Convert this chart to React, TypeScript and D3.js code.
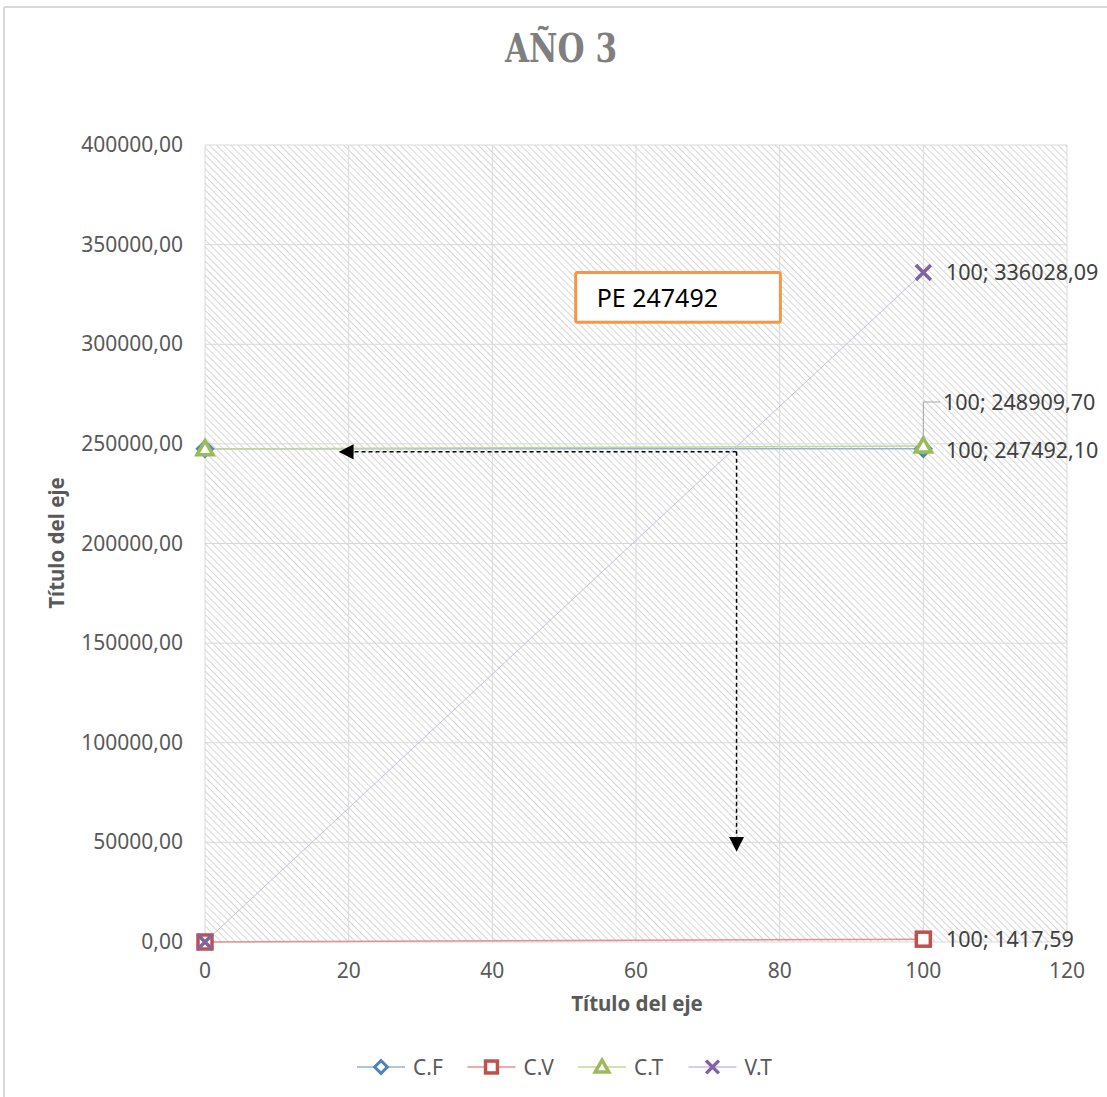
import React from "react";
import * as d3 from "d3";

const seriesNames = ["C.F", "C.V", "C.T", "V.T"];
const seriesColors = ["#4f81bd", "#c0504d", "#9bbb59", "#8064a2"];
const lineColors = ["#95b3d7", "#e6908e", "#c3d69b", "#c9c0e0"];
const xValues = [0, 100];
const cfValues = [247492.1, 247492.1];
const cvValues = [0, 1417.59];
const ctValues = [247492.1, 248909.7];
const vtValues = [0, 336028.09];
const xTicks = [0, 20, 40, 60, 80, 100, 120];
const yTicks = [0, 50000, 100000, 150000, 200000, 250000, 300000, 350000, 400000];
const peX = 74;
const peY = 247492;
const arrowLeftX = 18.8;
const arrowDownY = 46000;
const peBox = { x0: 51.6, x1: 80.1, y0: 336000, y1: 311000, text: "PE 247492" };

const W = 1107, H = 1097;
const fmt = (v: number) => v.toFixed(2).replace(".", ",");

export default function App() {
  const x = d3.scaleLinear().domain([0, 120]).range([205, 1067]);
  const y = d3.scaleLinear().domain([0, 400000]).range([942, 145]);
  const all = [cfValues, cvValues, ctValues, vtValues];
  const line = d3.line<[number, number]>().x(d => x(d[0])).y(d => y(d[1]));
  const font = "'Noto Sans', 'Open Sans', sans-serif";

  const marker = (k: number, cx: number, cy: number, key: string, s = 1) => {
    const c = seriesColors[k];
    if (k === 0) {
      const r = 7.5 * s;
      return <path key={key} d={`M${cx},${cy - r}L${cx + r},${cy}L${cx},${cy + r}L${cx - r},${cy}Z`} fill="#fff" stroke={c} strokeWidth={3} />;
    }
    if (k === 1) {
      const r = 7 * s;
      return <rect key={key} x={cx - r} y={cy - r} width={2 * r} height={2 * r} fill="#fff" stroke={c} strokeWidth={3.5} />;
    }
    if (k === 2) {
      const r = 8 * s;
      return <path key={key} d={`M${cx},${cy - r}L${cx + r},${cy + r * 0.75}L${cx - r},${cy + r * 0.75}Z`} fill="#fff" stroke={c} strokeWidth={3.5} />;
    }
    const r = 7.5 * s;
    return <path key={key} d={`M${cx - r},${cy - r}L${cx + r},${cy + r}M${cx + r},${cy - r}L${cx - r},${cy + r}`} stroke={c} strokeWidth={3.5} />;
  };

  return (
    <svg width={W} height={H} style={{ position: "absolute", left: 0, top: 0, background: "#fff" }}>
      <defs>
        <pattern id="hatch" patternUnits="userSpaceOnUse" width="5" height="5" patternTransform="rotate(-45)">
          <line x1="0" y1="0" x2="0" y2="5" stroke="#d3d3d3" strokeWidth="1.8" />
        </pattern>
        <marker id="ah2" viewBox="0 0 10 10" refX="9" refY="5" markerWidth="15" markerHeight="15" markerUnits="userSpaceOnUse" orient="auto-start-reverse">
          <path d="M0,0L10,5L0,10Z" fill="#000" />
        </marker>
      </defs>
      <rect x={0} y={0} width={W} height={H} fill="#fff" />
      <line x1={4} y1={7} x2={4} y2={H} stroke="#d9d9d9" strokeWidth={2} />
      <line x1={4} y1={7} x2={W} y2={7} stroke="#d9d9d9" strokeWidth={2} />

      <g transform="translate(561,62) scale(0.84,1.05)">
        <text x={0} y={0} textAnchor="middle" fontFamily="'DejaVu Serif', serif" fontWeight="bold" fontSize={37} fill="#7f7f7f">AÑO 3</text>
      </g>

      <rect x={x(0)} y={y(400000)} width={x(120) - x(0)} height={y(0) - y(400000)} fill="url(#hatch)" />
      {xTicks.map(t => (
        <line key={"gx" + t} x1={x(t)} x2={x(t)} y1={y(0)} y2={y(400000)} stroke="#d9d9d9" strokeWidth={1} />
      ))}
      {yTicks.map(t => (
        <line key={"gy" + t} x1={x(0)} x2={x(120)} y1={y(t)} y2={y(t)} stroke="#d9d9d9" strokeWidth={1} />
      ))}

      {yTicks.map(t => (
        <text key={"ty" + t} x={183} y={y(t) + 7} textAnchor="end" fontFamily={font} fontSize={21} fill="#595959">{fmt(t)}</text>
      ))}
      {xTicks.map(t => (
        <text key={"tx" + t} x={x(t)} y={978} textAnchor="middle" fontFamily={font} fontSize={21} fill="#595959">{t}</text>
      ))}
      <text x={637} y={1011} textAnchor="middle" fontFamily={font} fontWeight="bold" fontSize={20.5} fill="#595959">Título del eje</text>
      <text transform={`translate(64,543) rotate(-90)`} textAnchor="middle" fontFamily={font} fontWeight="bold" fontSize={20.5} fill="#595959">Título del eje</text>

      {all.map((vals, k) => (
        <path key={"l" + k} d={line(xValues.map((xv, i) => [xv, vals[i]]) as [number, number][]) || ""} fill="none" stroke={lineColors[k]} strokeWidth={k === 3 ? 1 : 1.5} />
      ))}

      {/* PE annotations */}
      <line x1={x(peX)} y1={y(peY) + 3} x2={x(arrowLeftX)} y2={y(peY) + 3} stroke="#000" strokeWidth={1.5} strokeDasharray="4,3" markerEnd="url(#ah2)" />
      <line x1={x(peX)} y1={y(peY) + 3} x2={x(peX)} y2={y(arrowDownY)} stroke="#000" strokeWidth={1.5} strokeDasharray="4,3" markerEnd="url(#ah2)" />

      {all.map((vals, k) => xValues.map((xv, i) => marker(k, x(xv), y(vals[i]), `m${k}-${i}`)))}

      <rect x={x(peBox.x0)} y={y(peBox.y0)} width={x(peBox.x1) - x(peBox.x0)} height={y(peBox.y1) - y(peBox.y0)} fill="#fff" stroke="#f79646" strokeWidth={3} rx={2} />
      <text x={x(peBox.x0) + 21} y={y(peBox.y0) + 34} fontFamily={font} fontSize={25} fill="#000">{peBox.text}</text>

      {/* data labels */}
      <text x={946} y={y(vtValues[1]) + 8} fontFamily={font} fontSize={21.5} fill="#404040">{`100; ${fmt(vtValues[1])}`}</text>
      <text x={946} y={458} fontFamily={font} fontSize={21.5} fill="#404040">{`100; ${fmt(cfValues[1])}`}</text>
      <path d={`M${x(100)},${y(ctValues[1]) - 8}V402H940`} fill="none" stroke="#a6a6a6" strokeWidth={1} />
      <text x={943} y={410} fontFamily={font} fontSize={21.5} fill="#404040">{`100; ${fmt(ctValues[1])}`}</text>
      <text x={946} y={y(cvValues[1]) + 8} fontFamily={font} fontSize={21.5} fill="#404040">{`100; ${fmt(cvValues[1])}`}</text>

      {/* legend */}
      {seriesNames.map((n, k) => {
        const lx = 357 + k * 110.5;
        return (
          <g key={"lg" + k}>
            <line x1={lx} x2={lx + 48} y1={1067} y2={1067} stroke={lineColors[k]} strokeWidth={1.5} />
            {marker(k, lx + 24, 1067, "lm" + k, 0.85)}
            <text x={lx + 56} y={1074.5} fontFamily={font} fontSize={21} fill="#595959">{n}</text>
          </g>
        );
      })}
    </svg>
  );
}
